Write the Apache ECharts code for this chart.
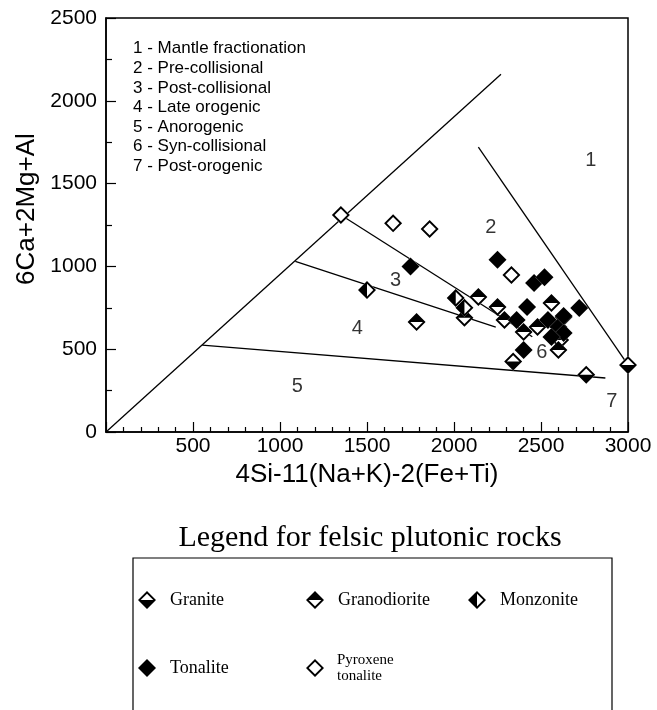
<!DOCTYPE html>
<html><head><meta charset="utf-8">
<script src="https://cdn.jsdelivr.net/npm/echarts@6/dist/echarts.min.js"></script>
<style>html,body{margin:0;padding:0;background:#fff}#c{width:657px;height:710px}</style>
</head><body><div id="c"></div>
<script>
// ---- data (R1 = 4Si-11(Na+K)-2(Fe+Ti), R2 = 6Ca+2Mg+Al) ----
const granite = [[2340,425],[2760,345],[3000,405]];
const granodiorite = [[2140,815],[2060,690],[1785,664],[2250,755],[2290,676],[2400,604],[2560,779],[2630,694],[2480,634],[2610,556],[2600,495]];
const monzonite = [[1500,857],[2010,809],[2060,750]];
const tonalite = [[1750,1000],[2250,1040],[2460,900],[2520,935],[2420,755],[2360,676],[2540,676],[2600,634],[2630,598],[2560,574],[2400,495],[2720,749],[2630,700]];
const pyroxeneTonalite = [[1350,1310],[1650,1260],[1860,1226],[2330,948]];

const diagLine = [[0,0],[2270,2160]];
const line1 = [[2140,1720],[3000,405]];
const line23 = [[1350,1310],[2450,575]];
const line34 = [[1088,1030],[2240,634]];
const line45 = [[553,525],[2870,326]];

const regionNames = ['1','2','3','4','5','6','7'];
const regionX = [2786,2211,1664,1445,1100,2504,2907];
const regionY = [1642,1232,912,628,272,483,187];

const insetLines = ['1 - Mantle fractionation','2 - Pre-collisional','3 - Post-collisional','4 - Late orogenic','5 - Anorogenic','6 - Syn-collisional','7 - Post-orogenic'];
const rockNames = ['Granite','Granodiorite','Monzonite','Tonalite','Pyroxene tonalite'];
const xTickValues = [0,500,1000,1500,2000,2500,3000];

// ---- symbols ----
const OUT = 'M10 0L20 10L10 20L0 10Z';
const paths = {
  'Granite': OUT + 'M10 3L3 10L17 10Z',
  'Granodiorite': OUT + 'M3 10L10 17L17 10Z',
  'Monzonite': OUT + 'M10 3L10 17L17 10Z',
  'Tonalite': OUT,
  'Pyroxene tonalite': OUT + 'M10 3L3 10L10 17L17 10Z'
};
const rockData = [granite, granodiorite, monzonite, tonalite, pyroxeneTonalite];
const SYM = 18;

function rockSeries(name, data){
  return {
    type:'custom', name, coordinateSystem:'cartesian2d', data, z:5,
    itemStyle:{color:'#000'},
    renderItem:(params, api)=>{
      const p = api.coord([api.value(0), api.value(1)]);
      const box = {x:p[0]-SYM/2, y:p[1]-SYM/2, width:SYM, height:SYM, layout:'cover'};
      return {type:'group', children:[
        {type:'path', shape:Object.assign({pathData:OUT}, box), style:{fill:'#fff'}},
        {type:'path', shape:Object.assign({pathData:paths[name]}, box), style:{fill:'#000'}}
      ]};
    }
  };
}
function lineSeries(data){
  return {type:'line', data, symbol:'none', silent:true, z:2, lineStyle:{color:'#000', width:1.3}, animation:false};
}

const legendPos = [[138,591],[306,591],[468,591],[138,659],[306,652]];
const legends = rockNames.map((n,i)=>({
  data:[{name:n, icon:'path://'+paths[n]}],
  left:legendPos[i][0], top:legendPos[i][1], padding:0,
  itemWidth:18, itemHeight:18, selectedMode:false,
  formatter: nm => nm==='Pyroxene tonalite' ? 'Pyroxene\ntonalite' : nm,
  textStyle: n==='Pyroxene tonalite'
    ? {fontFamily:'Liberation Serif', fontSize:15, lineHeight:16, color:'#000', padding:[0,0,0,8]}
    : {fontFamily:'Liberation Serif', fontSize:18, color:'#000', padding:[0,0,0,9]}
}));

const SANS = 'Liberation Sans';
const chart = echarts.init(document.getElementById('c'), null, {renderer:'canvas'});
chart.setOption({
  animation:false,
  backgroundColor:'#fff',
  grid:{left:106, right:29, top:18, bottom:278, show:true, borderColor:'#000', borderWidth:1.5},
  xAxis:{
    type:'value', min:0, max:3000, interval:500,
    axisLine:{lineStyle:{color:'#000', width:1.5}},
    axisTick:{inside:true, length:10, lineStyle:{color:'#000', width:1.2}},
    minorTick:{show:true, splitNumber:5, length:5, lineStyle:{color:'#000', width:1.2}},
    splitLine:{show:false}, minorSplitLine:{show:false},
    axisLabel:{formatter:v => (v===xTickValues[0] ? '' : String(v)), color:'#000', fontSize:21, fontFamily:SANS, margin:4},
    name:'4Si-11(Na+K)-2(Fe+Ti)', nameLocation:'middle', nameGap:24,
    nameTextStyle:{fontSize:26, color:'#000', fontFamily:SANS}
  },
  yAxis:{
    type:'value', min:0, max:2500, interval:500,
    axisLine:{lineStyle:{color:'#000', width:1.5}},
    axisTick:{inside:true, length:10, lineStyle:{color:'#000', width:1.2}},
    minorTick:{show:true, splitNumber:2, length:6, lineStyle:{color:'#000', width:1.2}},
    splitLine:{show:false}, minorSplitLine:{show:false},
    axisLabel:{formatter:v => String(v), color:'#000', fontSize:21, fontFamily:SANS, margin:9},
    name:'6Ca+2Mg+Al', nameLocation:'middle', nameGap:66,
    nameTextStyle:{fontSize:26, color:'#000', fontFamily:SANS, padding:[0,0,0,32]}
  },
  legend: legends,
  graphic:[
    {type:'text', left:133, top:39, style:{text:insetLines.join('\n'), font:'17px "Liberation Sans"', lineHeight:19.6, fill:'#000'}},
    {type:'text', x:370, y:538, style:{text:'Legend for felsic plutonic rocks', font:'30px "Liberation Serif"', fill:'#000', align:'center', verticalAlign:'middle'}},
    {type:'rect', shape:{x:133, y:558, width:479, height:220}, style:{fill:'none', stroke:'#000', lineWidth:1.2}}
  ],
  series:[
    lineSeries(diagLine), lineSeries(line1), lineSeries(line23), lineSeries(line34), lineSeries(line45),
    {type:'scatter', silent:true, symbolSize:1, itemStyle:{color:'rgba(0,0,0,0)'}, z:3,
     data: regionX.map((x,i)=>({value:[x, regionY[i]], name:regionNames[i]})),
     label:{show:true, position:'inside', formatter:'{b}', fontSize:20, color:'#000', fontFamily:SANS}},
    ...rockNames.map((n,i)=>rockSeries(n, rockData[i]))
  ]
});
</script>
</body></html>
